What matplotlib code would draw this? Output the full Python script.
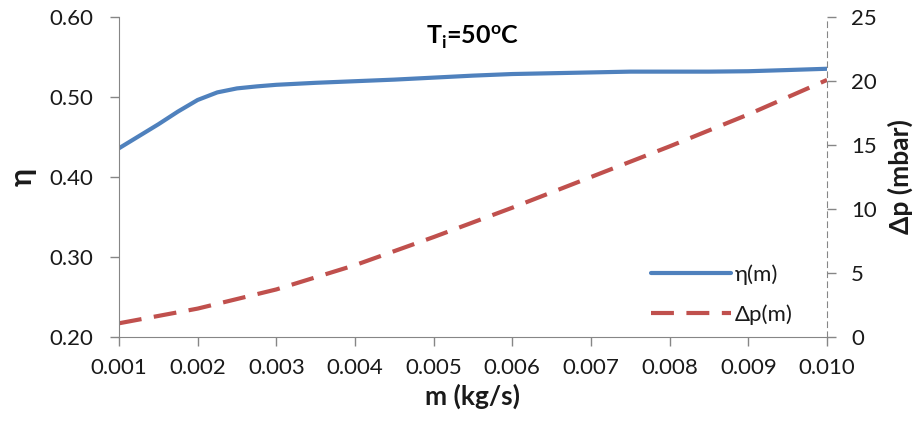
import numpy as np
import matplotlib.pyplot as plt

plt.rcParams['font.family'] = ['Lato', 'DejaVu Sans']

# data
m_flow = [0.001, 0.00125, 0.0015, 0.00175, 0.002, 0.00225, 0.0025, 0.00275, 0.003,
          0.0035, 0.004, 0.0045, 0.005, 0.0055, 0.006, 0.0065, 0.007, 0.0075,
          0.008, 0.0085, 0.009, 0.0095, 0.010]
eta = [0.436, 0.451, 0.466, 0.482, 0.4965, 0.506, 0.511, 0.5135, 0.5155,
       0.518, 0.520, 0.522, 0.5245, 0.527, 0.529, 0.530, 0.531, 0.532,
       0.532, 0.532, 0.5325, 0.534, 0.5356]
m_dp = [0.001, 0.002, 0.003, 0.004, 0.005, 0.006, 0.007, 0.008, 0.009, 0.010]
dp = [1.05, 2.2, 3.7, 5.6, 7.8, 10.1, 12.5, 14.9, 17.4, 20.1]

xticks = [0.001, 0.002, 0.003, 0.004, 0.005, 0.006, 0.007, 0.008, 0.009, 0.010]
yticks = [0.20, 0.30, 0.40, 0.50, 0.60]
y2ticks = [0, 5, 10, 15, 20, 25]

blue = '#4F81BD'
red = '#C0504D'
grey = '#868686'
txt = '#1a1a1a'

fig = plt.figure(figsize=(9.2, 4.23), dpi=100)
ax = fig.add_axes([0.1293, 0.204, 0.7696, 0.755])
ax2 = ax.twinx()

l1, = ax.plot(m_flow, eta, color=blue, lw=3, solid_capstyle='round',
              solid_joinstyle='round', label='η(m)')
l2, = ax2.plot(m_dp, dp, color=red, lw=3, dashes=(5.5, 3), label='Δp(m)')

ax.set_xlim(0.001, 0.010)
ax.set_ylim(0.20, 0.60)
ax2.set_ylim(0, 25)
ax.set_xticks(xticks)
ax.set_xticklabels([f'{v:.3f}' for v in xticks])
ax.set_yticks(yticks)
ax.set_yticklabels([f'{v:.2f}' for v in yticks])
ax2.set_yticks(y2ticks)

for a in (ax, ax2):
    a.tick_params(labelsize=16, colors=grey, labelcolor=txt, length=6.5, width=1)
    for s in a.spines.values():
        s.set_color(grey)
    a.spines['top'].set_visible(False)
ax.tick_params(axis='y', pad=12)
ax.tick_params(axis='x', pad=9)
ax2.tick_params(axis='y', pad=11)
ax.spines['right'].set_visible(False)
ax2.spines['left'].set_visible(False)
ax2.spines['bottom'].set_visible(False)
ax2.spines['right'].set_linestyle((0, (5, 4)))

ax.set_xlabel('m (kg/s)', fontsize=19, fontweight='bold', color=txt, labelpad=4)
ax.set_ylabel('η', fontsize=22, fontweight='bold', color=txt, labelpad=9)
ax2.set_ylabel('Δp (mbar)', fontsize=19, fontweight='bold', color=txt, labelpad=8)

ax.text(0.5, 0.98, r'T$_\mathregular{i}$=50$^\mathregular{o}$C', transform=ax.transAxes,
        ha='center', va='top', fontsize=18, fontweight='bold', color='black')

leg = ax.legend(handles=[l1, l2], loc='lower right', bbox_to_anchor=(0.98, -0.025),
                frameon=False, fontsize=16, handlelength=3.6, handletextpad=0.2,
                labelspacing=0.85)
for t in leg.get_texts():
    t.set_color(txt)

ax.set_zorder(ax2.get_zorder() + 1)
ax.patch.set_visible(False)

fig.savefig('out.png', dpi=100)
